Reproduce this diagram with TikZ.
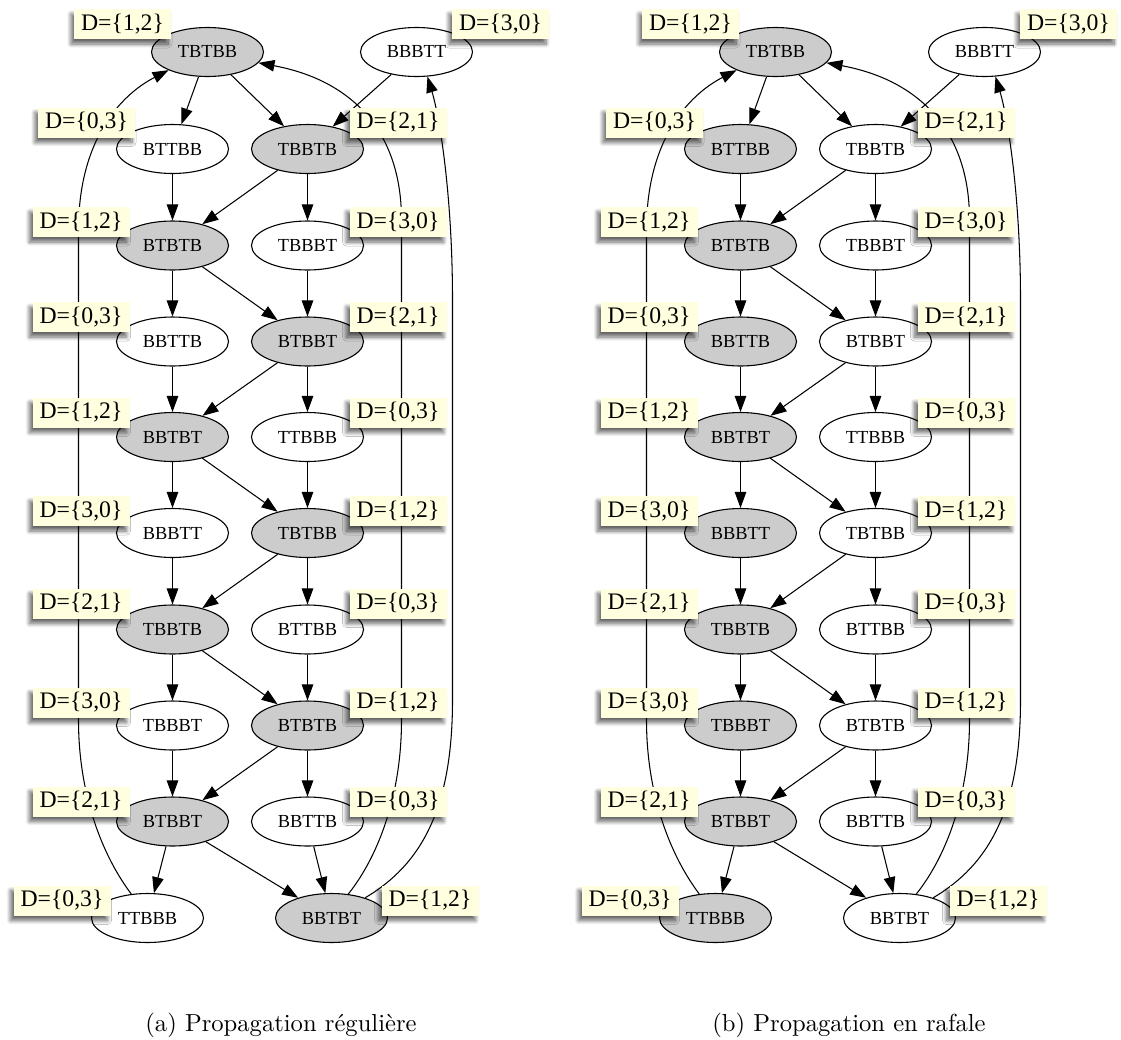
\documentclass[tikz,border=0pt]{standalone}
\usepackage{fontspec}
\usepackage{graphicx}
\newfontfamily\tms{Liberation Serif}
\usetikzlibrary{shapes.geometric,arrows.meta,shadows.blur}
\definecolor{nodegray}{RGB}{204,204,204}
\definecolor{labyellow}{RGB}{255,255,224}
\tikzset{
 st/.style={ellipse, draw, line width=1.1pt, minimum width=112pt, minimum height=49pt, inner sep=0pt, font=\tms\fontsize{18.4}{20}\selectfont},
 gr/.style={fill=nodegray},
 wh/.style={fill=white},
 ed/.style={line width=1.05pt, -{Triangle[length=16pt,width=11.5pt]}},
 lab/.style={fill=labyellow, minimum width=97pt, minimum height=30pt, inner sep=0pt, font=\tms\fontsize{23.7}{26}\selectfont,
   blur shadow={shadow xshift=-3pt, shadow yshift=-5pt, shadow blur radius=4pt, shadow blur steps=8, shadow opacity=60}},
 captext/.style={font=\fontsize{10}{12}\selectfont, anchor=base, inner sep=0pt},
}
\newcommand\DrawPanel[7]{%
\begin{scope}[xshift=#2]
\node[st,#3] (#1-0-L) at (207,52) {TBTBB};
\node[st,#5] (#1-0-R) at (416,52) {BBBTT};
\node[st,#4] (#1-1-L) at (172,149) {BTTBB};
\node[st,#6] (#1-1-R) at (307,149) {TBBTB};
\node[st,#3] (#1-2-L) at (172,245.5) {BTBTB};
\node[st,#5] (#1-2-R) at (307,245.5) {TBBBT};
\node[st,#4] (#1-3-L) at (172,341.5) {BBTTB};
\node[st,#6] (#1-3-R) at (307,341.5) {BTBBT};
\node[st,#3] (#1-4-L) at (172,437) {BBTBT};
\node[st,#5] (#1-4-R) at (307,437) {TTBBB};
\node[st,#4] (#1-5-L) at (172,533) {BBBTT};
\node[st,#6] (#1-5-R) at (307,533) {TBTBB};
\node[st,#3] (#1-6-L) at (172,629.5) {TBBTB};
\node[st,#5] (#1-6-R) at (307,629.5) {BTTBB};
\node[st,#4] (#1-7-L) at (172,725.5) {TBBBT};
\node[st,#6] (#1-7-R) at (307,725.5) {BTBTB};
\node[st,#3] (#1-8-L) at (172,821.5) {BTBBT};
\node[st,#5] (#1-8-R) at (307,821.5) {BBTTB};
\node[st,#4] (#1-9-L) at (147,918) {TTBBB};
\node[st,#6] (#1-9-R) at (331,918) {BBTBT};
% edges
\draw[ed] (#1-0-L) -- (#1-1-L);
\draw[ed] (#1-0-L) -- (#1-1-R);
\draw[ed] (#1-0-R) -- (#1-1-R);
\foreach \r in {1,...,8}{%
 \pgfmathtruncatemacro\s{\r+1}%
 \draw[ed] (#1-\r-L) -- (#1-\s-L);
 \draw[ed] (#1-\r-R) -- (#1-\s-R);
 \ifodd\r\relax \draw[ed] (#1-\r-R) -- (#1-\s-L); \else \draw[ed] (#1-\r-L) -- (#1-\s-R); \fi
}
\draw[ed] (#1-9-L.124) .. controls (105,860) and (78,800) .. (78,720) -- (78,230) .. controls (78,140) and (120,95) .. (#1-0-L.205);
\draw[ed] (#1-9-R.55) .. controls (375,860) and (401,800) .. (401,720) -- (401,220) .. controls (401,130) and (350,80) .. (#1-0-L.-12);
\draw[ed] (#1-9-R.31) .. controls (420,865) and (452,810) .. (452,700) -- (452,300) .. controls (452,200) and (440,120) .. (#1-0-R.-66);
% labels
\node[lab] (#1-l0L) at (122,24) {D=\{1,2\}};
\node[lab] (#1-l0R) at (500,24) {D=\{3,0\}};
\node[lab] (#1-l1L) at (86,122.5) {D=\{0,3\}};
\node[lab] (#1-l1R) at (397.5,122.5) {D=\{2,1\}};
\node[lab] (#1-l2L) at (80.5,222) {D=\{1,2\}};
\node[lab] (#1-l2R) at (397.5,222) {D=\{3,0\}};
\node[lab] (#1-l3L) at (80.5,317) {D=\{0,3\}};
\node[lab] (#1-l3R) at (397.5,317) {D=\{2,1\}};
\node[lab] (#1-l4L) at (80.5,412.5) {D=\{1,2\}};
\node[lab] (#1-l4R) at (397.5,412.5) {D=\{0,3\}};
\node[lab] (#1-l5L) at (80.5,511) {D=\{3,0\}};
\node[lab] (#1-l5R) at (397.5,511) {D=\{1,2\}};
\node[lab] (#1-l6L) at (80.5,603.5) {D=\{2,1\}};
\node[lab] (#1-l6R) at (397.5,603.5) {D=\{0,3\}};
\node[lab] (#1-l7L) at (80.5,702.5) {D=\{3,0\}};
\node[lab] (#1-l7R) at (397.5,702.5) {D=\{1,2\}};
\node[lab] (#1-l8L) at (80.5,801.5) {D=\{2,1\}};
\node[lab] (#1-l8R) at (397.5,801.5) {D=\{0,3\}};
\node[lab] (#1-l9L) at (61.5,900.5) {D=\{0,3\}};
\node[lab] (#1-l9R) at (429.5,900.5) {D=\{1,2\}};
\node[captext] (#1-cap) at (280.5,1031) {\scalebox{2.46}{#7}};
\end{scope}}
\begin{document}
\begin{tikzpicture}[x=1pt,y=-1pt]
\useasboundingbox (0,0) rectangle (1121,1039);
\DrawPanel{a}{0.5pt}{gr}{wh}{wh}{gr}{(a) Propagation régulière}
\DrawPanel{b}{568.5pt}{gr}{gr}{wh}{wh}{(b) Propagation en rafale}
\end{tikzpicture}
\end{document}
